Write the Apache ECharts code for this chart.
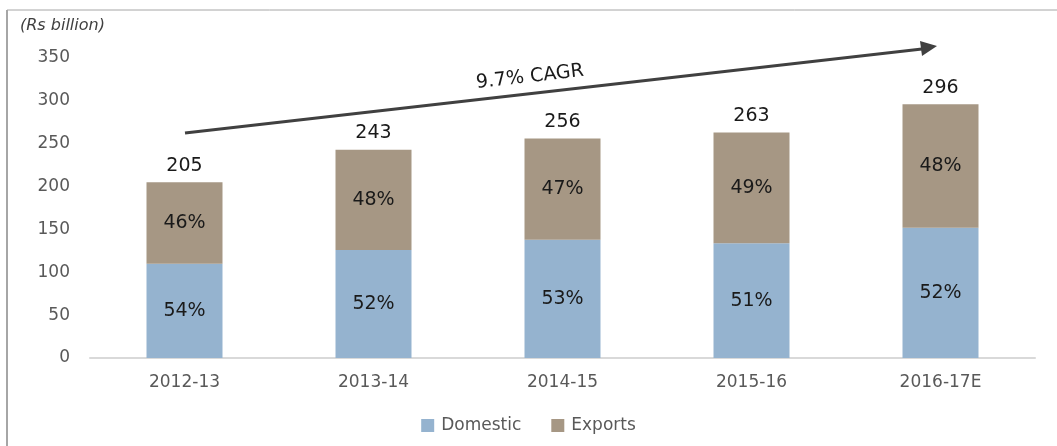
<!DOCTYPE html>
<html>
<head>
<meta charset="utf-8">
<script src="https://cdn.jsdelivr.net/npm/echarts@6/dist/echarts.min.js"></script>
<style>
  html, body { margin: 0; padding: 0; background: #fff; }
  #chart { width: 1057px; height: 446px; }
</style>
</head>
<body>
<div id="chart"></div>
<script>
  // data
  const years = ['2012-13', '2013-14', '2014-15', '2015-16', '2016-17E'];
  const domestic = [110, 126, 138, 134, 152];
  const exportsVal = [95, 117, 118, 129, 144];
  const totals = [205, 243, 256, 263, 296];
  const domesticPct = ['54%', '52%', '53%', '51%', '52%'];
  const exportsPct = ['46%', '48%', '47%', '49%', '48%'];
  const yTicks = [0, 50, 100, 150, 200, 250, 300, 350];

  const font = 'DejaVu Sans';
  const myChart = echarts.init(document.getElementById('chart'));

  const getOption = () => {
    return {
      animation: false,
      textStyle: { fontFamily: font },
      grid: { left: 90, right: 22, top: 58, bottom: 88 },
      legend: {
        bottom: 7,
        left: 'center',
        itemWidth: 13,
        itemHeight: 13,
        itemGap: 30,
        icon: 'rect',
        textStyle: { fontSize: 17, color: '#595959', fontFamily: font, padding: [0, 0, 0, 2] },
        data: ['Domestic', 'Exports'],
      },
      xAxis: {
        type: 'category',
        data: years,
        axisTick: { show: false },
        axisLine: { lineStyle: { color: '#d9d9d9', width: 2 } },
        axisLabel: { fontSize: 17, color: '#595959', margin: 16, fontFamily: font },
      },
      yAxis: {
        type: 'value',
        min: yTicks[0],
        max: yTicks[yTicks.length - 1],
        interval: 50,
        splitLine: { show: false },
        axisLine: { show: false },
        axisTick: { show: false },
        axisLabel: { fontSize: 17, color: '#595959', margin: 20, fontFamily: font },
      },
      series: [
        {
          name: 'Domestic',
          type: 'bar',
          stack: 'total',
          barWidth: 76,
          data: domestic,
          itemStyle: { color: '#95b3cf' },
          label: {
            show: true,
            position: 'inside',
            fontSize: 19,
            color: '#1a1a1a',
            fontFamily: font,
            formatter: (p) => domesticPct[p.dataIndex],
          },
        },
        {
          name: 'Exports',
          type: 'bar',
          stack: 'total',
          barWidth: 76,
          data: exportsVal,
          itemStyle: { color: '#a69784' },
          label: {
            show: true,
            position: 'inside',
            fontSize: 19,
            color: '#1a1a1a',
            fontFamily: font,
            formatter: (p) => exportsPct[p.dataIndex],
          },
        },
        {
          // invisible series carrying the total labels
          name: 'Total',
          type: 'bar',
          stack: 'total',
          barWidth: 76,
          data: totals.map(() => 0),
          itemStyle: { color: 'transparent' },
          label: {
            show: true,
            position: 'top',
            distance: 7,
            fontSize: 19,
            color: '#1a1a1a',
            fontFamily: font,
            formatter: (p) => totals[p.dataIndex],
          },
        },
      ],
      graphic: [
        // frame
        { type: 'line', shape: { x1: 7, y1: 10, x2: 7, y2: 446 }, style: { stroke: '#a6a6a6', lineWidth: 2 } },
        { type: 'line', shape: { x1: 7, y1: 10, x2: 1057, y2: 10 }, style: { stroke: '#a6a6a6', lineWidth: 1 } },
        {
          type: 'text',
          left: 20,
          top: 18,
          style: { text: '(Rs billion)', fontSize: 16, fontStyle: 'italic', fill: '#404040', fontFamily: font },
        },
        // CAGR arrow
        { type: 'line', shape: { x1: 185, y1: 133, x2: 922, y2: 49 }, style: { stroke: '#404040', lineWidth: 3 } },
        { type: 'polygon', shape: { points: [[937, 46], [920, 41], [922, 56]] }, style: { fill: '#404040' } },
        {
          type: 'text',
          x: 530,
          y: 77,
          rotation: 6.5 * Math.PI / 180,
          style: { text: '9.7% CAGR', fontSize: 19, fill: '#1a1a1a', align: 'center', verticalAlign: 'middle', fontFamily: font },
        },
      ],
    };
  };

  myChart.setOption(getOption());
</script>
</body>
</html>
